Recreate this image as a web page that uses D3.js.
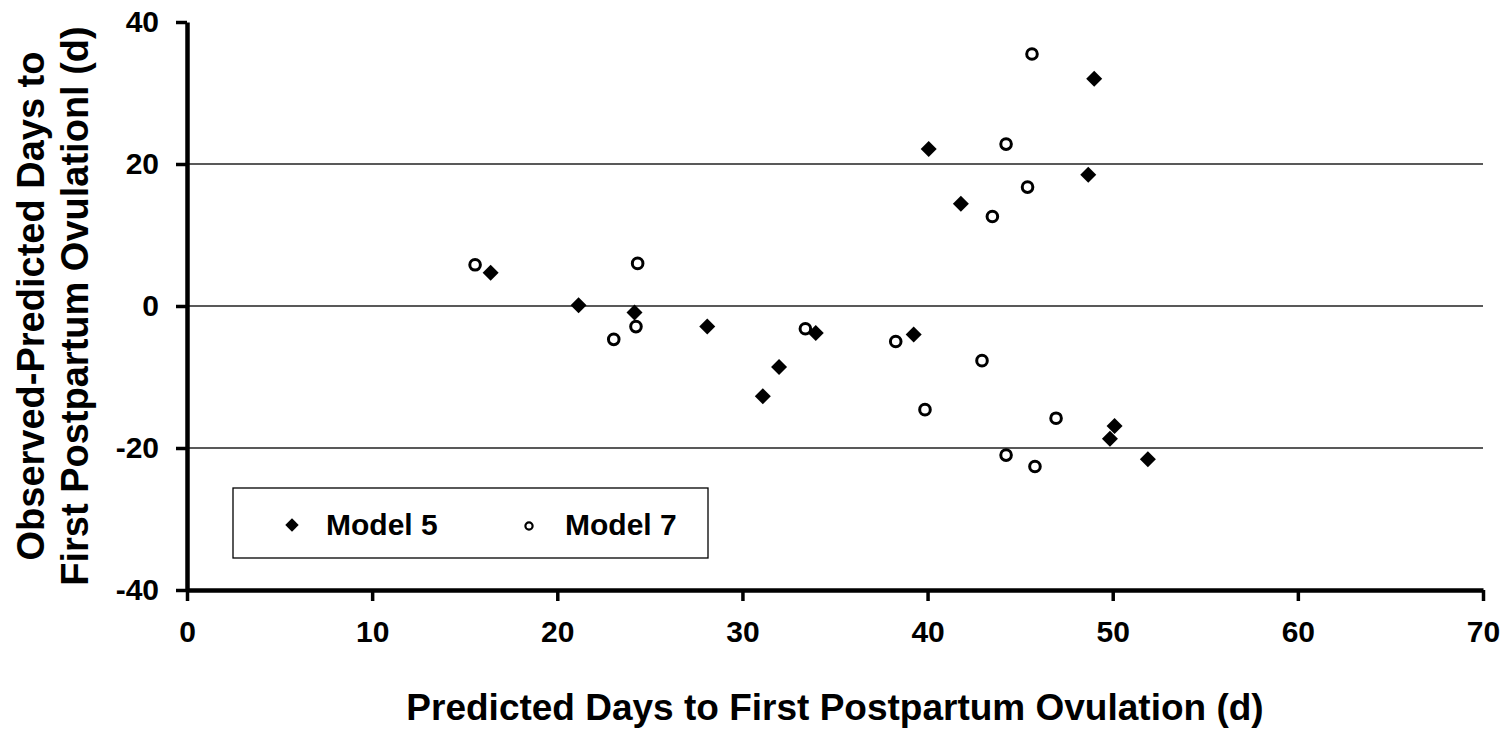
<!DOCTYPE html>
<html>
<head>
<meta charset="utf-8">
<script src="https://cdn.jsdelivr.net/npm/d3@7"></script>
<style>
  body { margin: 0; background: #fff; }
  text { font-family: "Liberation Sans", Arial, sans-serif; font-weight: bold; fill: #000; }
</style>
</head>
<body>
<div id="chart"></div>
<script>
// predicted days (x) and observed - predicted (y)
const model5Predicted = [16.4, 21.15, 24.17, 28.1, 31.1, 31.98, 33.96, 39.25, 40.06, 41.8, 48.68, 49.0, 49.85, 50.1, 51.9];
const model5Residual  = [4.7, 0.1, -0.9, -2.9, -12.7, -8.6, -3.8, -4.0, 22.1, 14.4, 18.5, 32.0, -18.7, -16.9, -21.6];

const model7Predicted = [15.56, 23.05, 24.25, 24.34, 33.4, 38.28, 39.86, 42.94, 43.5, 44.24, 45.4, 45.64, 44.24, 45.8, 46.94];
const model7Residual  = [5.8, -4.7, -2.9, 6.0, -3.2, -5.0, -14.6, -7.7, 12.6, 22.8, 16.75, 35.5, -21.0, -22.6, -15.8];

const xTicks = [0, 10, 20, 30, 40, 50, 60, 70];
const yTicks = [-40, -20, 0, 20, 40];
const gridValues = [-20, 0, 20];
const seriesNames = ['Model 5', 'Model 7'];

const width = 1508;
const height = 737;
const margin = { top: 22, right: 25, bottom: 147, left: 187 };

const svg = d3.select('#chart').append('svg')
  .attr('width', width)
  .attr('height', height);

const x = d3.scaleLinear().domain([0, 70]).range([margin.left, width - margin.right]);
const y = d3.scaleLinear().domain([-40, 40]).range([height - margin.bottom, margin.top]);

// horizontal reference lines
svg.append('g')
  .selectAll('line')
  .data(gridValues)
  .join('line')
  .attr('x1', x(0))
  .attr('x2', x(70))
  .attr('y1', (d) => y(d))
  .attr('y2', (d) => y(d))
  .attr('stroke', '#222')
  .attr('stroke-width', 1.4);

// axes (plain hyphen for negatives, like the original)
const plain = (d) => String(d);

const xAxis = svg.append('g')
  .attr('transform', `translate(0,${y(-40)})`)
  .call(d3.axisBottom(x).tickValues(xTicks).tickFormat(plain).tickSize(11).tickSizeOuter(0).tickPadding(20));

const yAxis = svg.append('g')
  .attr('transform', `translate(${x(0)},0)`)
  .call(d3.axisLeft(y).tickValues(yTicks).tickFormat(plain).tickSize(11).tickSizeOuter(0).tickPadding(17));

[xAxis, yAxis].forEach((g) => {
  g.select('.domain').attr('stroke', '#000').attr('stroke-width', 4.5);
  g.selectAll('.tick line').attr('stroke', '#000').attr('stroke-width', 3.5);
  g.selectAll('.tick text')
    .attr('font-size', 30)
    .attr('font-family', '"Liberation Sans", Arial, sans-serif')
    .attr('font-weight', 'bold')
    .attr('fill', '#000');
});

// axis titles
svg.append('text')
  .attr('x', x(35))
  .attr('y', 720)
  .attr('text-anchor', 'middle')
  .attr('font-size', 37)
  .text('Predicted Days to First Postpartum Ovulation (d)');

const yTitle = svg.append('g').attr('transform', `translate(0,${y(0)}) rotate(-90)`);
yTitle.append('text')
  .attr('x', 0)
  .attr('y', 44)
  .attr('text-anchor', 'middle')
  .attr('font-size', 38)
  .text('Observed-Predicted Days to');
yTitle.append('text')
  .attr('x', 0)
  .attr('y', 88)
  .attr('text-anchor', 'middle')
  .attr('font-size', 38)
  .text('First Postpartum Ovulationl (d)');

// points
const diamond = d3.symbol().type(d3.symbolSquare).size(128);
const model5 = model5Predicted.map((p, i) => ({ p, r: model5Residual[i] }));
const model7 = model7Predicted.map((p, i) => ({ p, r: model7Residual[i] }));

svg.append('g')
  .selectAll('path')
  .data(model5)
  .join('path')
  .attr('d', diamond)
  .attr('transform', (d) => `translate(${x(d.p)},${y(d.r)}) rotate(45)`)
  .attr('fill', '#000');

svg.append('g')
  .selectAll('circle')
  .data(model7)
  .join('circle')
  .attr('cx', (d) => x(d.p))
  .attr('cy', (d) => y(d.r))
  .attr('r', 5.3)
  .attr('fill', '#fff')
  .attr('stroke', '#000')
  .attr('stroke-width', 3);

// legend
const legend = svg.append('g').attr('transform', 'translate(233,488)');
legend.append('rect')
  .attr('width', 475)
  .attr('height', 70)
  .attr('fill', '#fff')
  .attr('stroke', '#000')
  .attr('stroke-width', 1.3);

legend.append('path')
  .attr('d', d3.symbol().type(d3.symbolSquare).size(90))
  .attr('transform', 'translate(59,37) rotate(45)')
  .attr('fill', '#000');
legend.append('circle')
  .attr('cx', 296)
  .attr('cy', 38)
  .attr('r', 3.6)
  .attr('fill', '#fff')
  .attr('stroke', '#000')
  .attr('stroke-width', 2.2);

legend.selectAll('text.lbl')
  .data(seriesNames)
  .join('text')
  .attr('class', 'lbl')
  .attr('x', (d, i) => (i === 0 ? 93 : 332))
  .attr('y', 47)
  .attr('font-size', 30)
  .text((d) => d);
</script>
</body>
</html>
